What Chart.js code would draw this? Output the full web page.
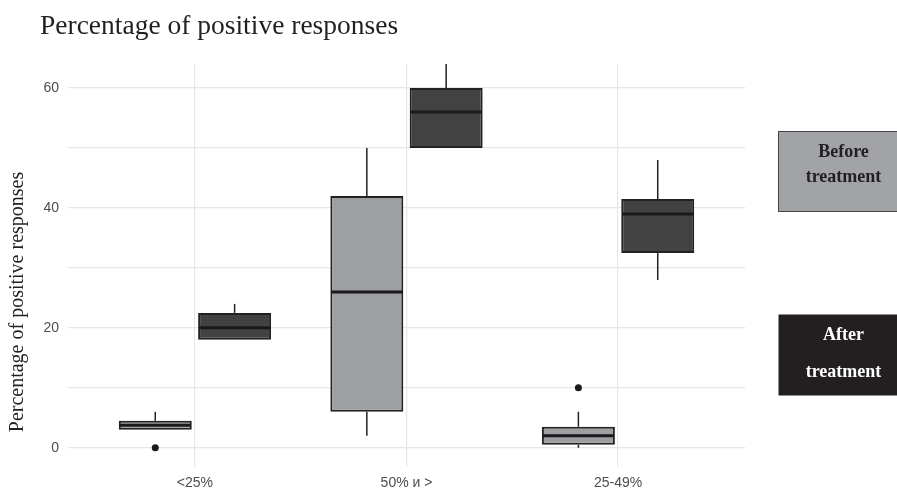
<!DOCTYPE html>
<html>
<head>
  <title>Percentage of positive responses</title>
  <script src="https://cdn.jsdelivr.net/npm/chart.js"></script>
  <style>
    body { margin: 0; background: #fff; }
    .container { width: 897px; height: 491px; position: relative; }
  </style>
</head>
<body>
  <div class="container">
    <canvas id="chart"></canvas>
  </div>

  <script>
    // Categories on the x axis
    const categories = ['<25%', '50% и >', '25-49%'];
    const categoryPositions = [1, 2, 3];

    // Before treatment (five-number summary + outliers)
    const beforeMin = [3, 2, 0];
    const beforeQ1 = [3, 6, 0.5];
    const beforeMedian = [3.75, 26, 2];
    const beforeQ3 = [4.5, 42, 3.5];
    const beforeMax = [6, 50, 6];
    const beforeOutliers = [[0], [], [10]];

    // After treatment
    const afterMin = [18, 50, 28];
    const afterQ1 = [18, 50, 32.5];
    const afterMedian = [20, 56, 39];
    const afterQ3 = [22.5, 60, 41.5];
    const afterMax = [24, 64, 48];
    const afterOutliers = [[], [], []];

    // Y axis ticks (labels only every 20)
    const yGridValues = [0, 10, 20, 30, 40, 50, 60];
    const yLabelValues = [0, 20, 40, 60];

    const boxStats = [
      { min: beforeMin, median: beforeMedian, max: beforeMax, outliers: beforeOutliers },
      { min: afterMin, median: afterMedian, max: afterMax, outliers: afterOutliers }
    ];

    function boxData(q1, q3) {
      return categoryPositions.map((x, i) => ({ x: x, y: [q1[i], q3[i]] }));
    }

    // Draws whiskers, medians and outliers on top of the floating bars
    const boxPlotExtras = {
      id: 'boxPlotExtras',
      afterDatasetsDraw(chart) {
        const ctx = chart.ctx;
        const yScale = chart.scales.y;
        boxStats.forEach((stats, d) => {
          const meta = chart.getDatasetMeta(d);
          meta.data.forEach((bar, i) => {
            const half = bar.width / 2;
            const top = Math.min(bar.y, bar.base);
            const bottom = Math.max(bar.y, bar.base);
            const yMax = yScale.getPixelForValue(stats.max[i]);
            const yMin = yScale.getPixelForValue(stats.min[i]);
            const yMed = yScale.getPixelForValue(stats.median[i]);

            ctx.save();
            ctx.strokeStyle = '#222222';
            ctx.lineWidth = 1.5;
            ctx.beginPath();
            if (yMax < top) { ctx.moveTo(bar.x, top); ctx.lineTo(bar.x, yMax); }
            if (yMin > bottom) { ctx.moveTo(bar.x, bottom); ctx.lineTo(bar.x, yMin); }
            ctx.stroke();

            ctx.strokeStyle = '#1a1a1a';
            ctx.lineWidth = 3;
            ctx.beginPath();
            ctx.moveTo(bar.x - half + 1, yMed);
            ctx.lineTo(bar.x + half - 1, yMed);
            ctx.stroke();

            ctx.fillStyle = '#1a1a1a';
            stats.outliers[i].forEach(v => {
              ctx.beginPath();
              ctx.arc(bar.x, yScale.getPixelForValue(v), 3.5, 0, Math.PI * 2);
              ctx.fill();
            });
            ctx.restore();
          });
        });
      }
    };

    // Y axis title and the two legend boxes
    const sideTexts = {
      id: 'sideTexts',
      afterDraw(chart) {
        const ctx = chart.ctx;
        ctx.save();
        ctx.fillStyle = '#231f20';
        ctx.font = '20px "Liberation Serif", serif';
        ctx.textAlign = 'center';
        ctx.textBaseline = 'alphabetic';
        ctx.translate(23, 302);
        ctx.rotate(-Math.PI / 2);
        ctx.fillText('Percentage of positive responses', 0, 0);
        ctx.restore();

        ctx.save();
        ctx.fillStyle = '#a2a3a7';
        ctx.fillRect(778.5, 131.5, 131, 80);
        ctx.strokeStyle = '#444444';
        ctx.lineWidth = 1;
        ctx.strokeRect(778.5, 131.5, 131, 80);
        ctx.fillStyle = '#231f20';
        ctx.font = 'bold 18px "Liberation Serif", serif';
        ctx.textAlign = 'center';
        ctx.fillText('Before', 843.5, 157);
        ctx.fillText('treatment', 843.5, 182);

        ctx.fillStyle = '#231f20';
        ctx.fillRect(778.5, 314.5, 131, 81);
        ctx.fillStyle = '#ffffff';
        ctx.fillText('After', 843.5, 340);
        ctx.fillText('treatment', 843.5, 377);
        ctx.restore();
      }
    };

    const tickFont = { family: '"Liberation Sans", Arial, sans-serif', size: 14 };

    new Chart(document.getElementById('chart'), {
      type: 'bar',
      data: {
        datasets: [
          {
            label: 'Before treatment',
            data: boxData(beforeQ1, beforeQ3),
            backgroundColor: '#9e9fa3',
            borderColor: '#222222',
            borderWidth: 2,
            borderSkipped: false
          },
          {
            label: 'After treatment',
            data: boxData(afterQ1, afterQ3),
            backgroundColor: '#424242',
            borderColor: '#222222',
            borderWidth: 2,
            borderSkipped: false
          }
        ]
      },
      options: {
        responsive: true,
        maintainAspectRatio: false,
        animation: false,
        categoryPercentage: 0.75,
        barPercentage: 0.92,
        layout: { padding: { left: 40, right: 152, top: 0, bottom: 0 } },
        plugins: {
          legend: { display: false },
          tooltip: { enabled: false },
          title: {
            display: true,
            text: 'Percentage of positive responses',
            align: 'start',
            color: '#231f20',
            font: { family: '"Liberation Serif", serif', size: 27.5, weight: 'normal', lineHeight: 1.2 },
            padding: { top: 10.5, bottom: 20.5 }
          }
        },
        scales: {
          x: {
            type: 'linear',
            min: 0.4,
            max: 3.6,
            offset: false,
            afterBuildTicks: scale => { scale.ticks = categoryPositions.map(v => ({ value: v })); },
            afterFit: scale => { scale.height = 24; },
            ticks: {
              padding: 7.6,
              color: '#4d4d4d',
              font: tickFont,
              maxRotation: 0,
              callback: v => categories[categoryPositions.indexOf(v)]
            },
            grid: { offset: false, color: '#e6e6e6', lineWidth: 1.2, drawTicks: false },
            border: { display: false }
          },
          y: {
            min: -3.2,
            max: 64,
            afterBuildTicks: scale => { scale.ticks = yGridValues.map(v => ({ value: v })); },
            afterFit: scale => { scale.width = 28; },
            ticks: {
              padding: 9,
              color: '#4d4d4d',
              font: tickFont,
              callback: v => yLabelValues.includes(v) ? v : ''
            },
            grid: { color: '#e6e6e6', lineWidth: 1.2, drawTicks: false },
            border: { display: false }
          }
        }
      },
      plugins: [boxPlotExtras, sideTexts]
    });
  </script>
</body>
</html>
